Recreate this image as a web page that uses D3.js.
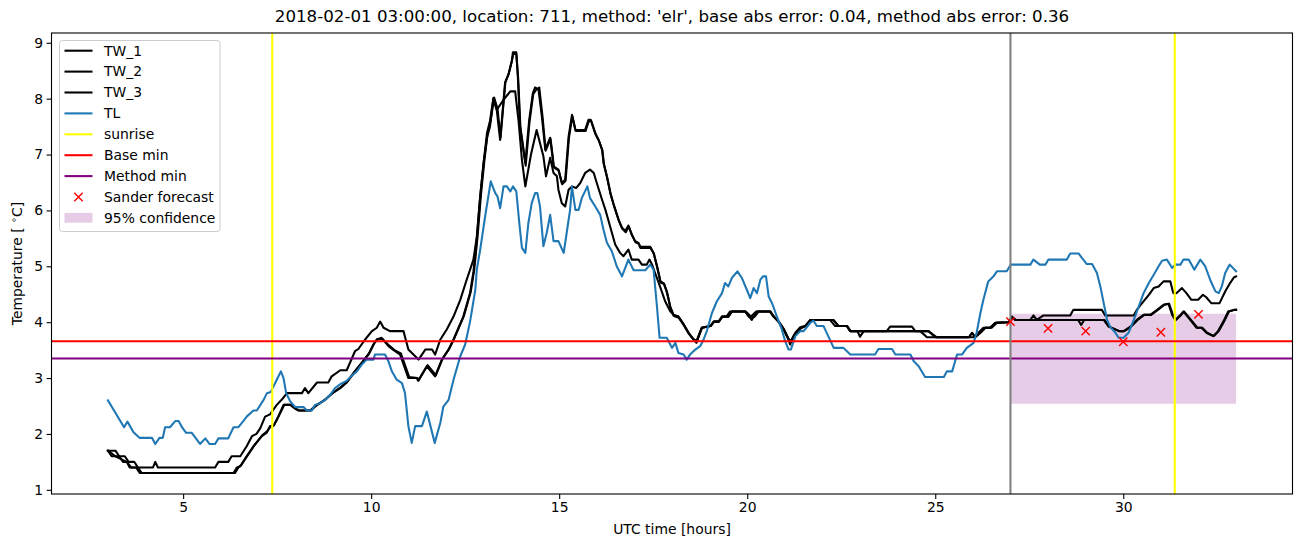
<!DOCTYPE html>
<html><head><meta charset="utf-8">
<script src="https://cdn.jsdelivr.net/npm/d3@7"></script>
<style>body{margin:0;background:#fff}svg{display:block}text{font-family:"DejaVu Sans",sans-serif;fill:#000}</style>
</head><body><svg id="c" width="1302" height="547"></svg>
<script>
// ---------- data ----------
const titleText = "2018-02-01 03:00:00, location: 711, method: 'elr', base abs error: 0.04, method abs error: 0.36";
const xTicks = [5, 10, 15, 20, 25, 30];
const yTicks = [1, 2, 3, 4, 5, 6, 7, 8, 9];

const tlHours = [3.00,3.43,3.52,3.68,3.84,4.17,4.26,4.37,4.46,4.52,4.65,4.79,4.88,4.97,5.08,5.23,5.45,5.59,5.70,5.85,5.94,6.20,6.34,6.47,6.60,6.69,6.87,6.96,7.14,7.23,7.33,7.49,7.60,7.67,7.74,7.85,7.98,8.20,8.29,8.42,8.51,8.64,8.78,8.91,9.04,9.20,9.35,9.50,9.62,9.75,9.88,10.06,10.10,10.37,10.46,10.55,10.68,10.82,10.90,10.99,11.08,11.17,11.35,11.48,11.69,11.84,11.92,12.06,12.19,12.28,12.37,12.50,12.63,12.77,12.81,12.90,13.03,13.18,13.30,13.36,13.43,13.52,13.61,13.70,13.77,13.86,13.94,14.01,14.10,14.18,14.27,14.36,14.42,14.49,14.58,14.67,14.76,14.85,14.98,15.12,15.20,15.29,15.34,15.43,15.52,15.60,15.75,15.82,15.96,16.09,16.18,16.27,16.40,16.53,16.67,16.84,16.98,17.29,17.42,17.51,17.60,17.67,17.86,18.00,18.09,18.17,18.31,18.39,18.48,18.62,18.75,18.84,18.93,19.06,19.19,19.33,19.41,19.50,19.59,19.74,19.86,19.99,20.08,20.17,20.26,20.35,20.42,20.50,20.57,20.66,20.79,20.92,21.01,21.10,21.16,21.28,21.41,21.50,21.68,21.76,21.85,22.03,22.30,22.56,22.74,23.40,23.49,23.85,23.94,24.34,24.43,24.56,24.73,25.23,25.31,25.45,25.58,25.71,25.84,26.02,26.10,26.20,26.28,26.41,26.55,26.64,26.90,27.01,27.53,27.61,27.78,27.93,28.01,28.50,28.59,28.81,28.90,29.03,29.17,29.30,29.39,29.48,29.57,29.65,29.79,29.88,30.01,30.14,30.28,30.41,30.54,30.68,30.81,30.94,31.03,31.16,31.30,31.38,31.52,31.60,31.74,31.89,32.05,32.18,32.31,32.45,32.54,32.62,32.71,32.83,33.00];
const tlTemps = [2.60,2.12,2.22,2.03,1.93,1.93,1.82,1.93,1.93,2.12,2.12,2.23,2.23,2.12,2.02,2.02,1.82,1.92,1.82,1.82,1.92,1.92,2.12,2.12,2.23,2.31,2.42,2.42,2.61,2.73,2.75,2.97,3.12,3.00,2.73,2.58,2.48,2.48,2.42,2.42,2.52,2.55,2.61,2.70,2.82,2.90,2.95,3.05,3.12,3.24,3.33,3.33,3.42,3.42,3.30,3.12,2.97,2.91,2.73,2.14,1.84,2.14,2.14,2.40,1.84,2.20,2.49,2.61,2.97,3.18,3.39,3.60,4.01,4.58,4.94,5.30,5.89,6.52,6.31,6.25,6.04,6.43,6.43,6.34,6.43,6.34,5.77,5.33,5.24,5.77,6.13,6.31,6.31,6.07,5.36,5.60,5.92,5.45,5.45,5.24,5.60,6.01,6.43,6.01,6.01,6.22,6.43,6.22,6.07,5.92,5.65,5.42,5.27,5.00,4.82,5.12,4.93,4.93,5.03,4.94,4.28,3.72,3.72,3.54,3.63,3.45,3.42,3.33,3.42,3.51,3.57,3.69,3.85,4.16,4.37,4.52,4.70,4.64,4.79,4.91,4.79,4.58,4.43,4.61,4.52,4.76,4.82,4.82,4.46,4.34,4.10,3.87,3.66,3.51,3.51,3.75,3.84,3.84,3.99,4.03,3.93,3.93,3.54,3.54,3.42,3.42,3.52,3.52,3.42,3.42,3.30,3.21,3.02,3.02,3.12,3.12,3.42,3.42,3.54,3.63,3.81,4.16,4.40,4.73,4.82,4.91,4.91,5.03,5.03,5.12,5.03,5.03,5.12,5.12,5.23,5.23,5.15,5.04,5.04,4.88,4.64,4.34,4.04,3.92,3.81,3.72,3.72,3.81,4.04,4.28,4.52,4.70,4.85,5.00,5.10,5.12,4.97,5.03,5.03,5.12,5.12,4.94,5.12,5.00,4.76,4.55,4.52,4.64,4.88,5.03,4.91];

const tw1Hours = [3.00,3.10,3.30,3.40,3.50,3.58,3.75,3.85,6.34,6.43,6.52,6.69,6.87,7.09,7.22,7.31,7.40,7.53,7.67,7.85,7.98,8.07,8.38,8.51,8.78,8.95,9.18,9.35,9.57,9.75,9.93,10.06,10.15,10.28,10.46,10.60,10.77,10.99,11.21,11.25,11.48,11.70,11.88,12.06,12.19,12.45,12.63,12.72,12.81,12.90,12.99,13.08,13.16,13.25,13.34,13.43,13.56,13.65,13.74,13.77,13.86,13.90,13.96,14.10,14.20,14.30,14.36,14.45,14.54,14.63,14.76,14.81,14.85,14.98,15.07,15.16,15.25,15.34,15.43,15.69,15.78,15.84,15.96,16.05,16.14,16.18,16.27,16.36,16.45,16.58,16.67,16.76,16.84,16.93,17.02,17.11,17.15,17.42,17.51,17.60,17.69,17.78,17.86,17.95,18.04,18.17,18.31,18.44,18.57,18.65,18.79,19.02,19.11,19.24,19.33,19.45,19.54,19.95,20.12,20.26,20.61,20.70,20.83,20.97,21.10,21.14,21.23,21.41,21.54,21.68,22.20,22.34,22.65,22.74,22.93,23.00,23.10,24.82,25.04,26.01,26.15,26.28,26.50,26.64,26.95,27.04,27.13,28.80,28.88,28.96,29.48,29.61,29.88,30.01,30.19,30.36,30.54,30.72,30.90,31.07,31.20,31.30,31.38,31.52,31.60,31.78,31.95,32.08,32.21,32.39,32.52,32.66,32.79,32.94,33.00];
const tw1Temps = [1.70,1.60,1.60,1.50,1.50,1.40,1.40,1.30,1.30,1.40,1.42,1.60,1.78,1.96,2.02,2.14,2.14,2.31,2.52,2.52,2.45,2.42,2.42,2.50,2.61,2.72,2.82,2.92,3.12,3.27,3.42,3.60,3.69,3.72,3.57,3.50,3.42,3.00,3.00,2.95,3.21,3.03,3.33,3.51,3.69,4.10,4.52,4.90,5.50,6.25,6.85,7.38,7.60,8.01,7.80,7.26,8.28,8.43,8.67,8.83,8.83,8.40,7.50,6.85,7.60,8.10,8.20,8.16,7.68,7.09,7.30,7.03,6.79,6.73,6.49,6.55,7.32,7.71,7.44,7.44,7.62,7.62,7.38,7.26,7.09,6.85,6.60,6.31,6.10,5.83,5.69,5.63,5.73,5.57,5.45,5.42,5.35,5.35,5.24,5.00,4.73,4.70,4.55,4.28,4.13,4.10,3.96,3.81,3.69,3.63,3.90,3.93,4.01,4.01,4.10,4.10,4.19,4.19,4.04,4.19,4.19,4.10,4.01,3.87,3.69,3.60,3.75,3.88,3.93,4.04,4.04,3.93,3.93,3.84,3.84,3.74,3.84,3.84,3.73,3.73,3.81,3.90,3.90,3.99,4.00,4.08,4.04,4.04,3.95,4.04,4.04,3.92,3.84,3.84,3.92,4.04,4.13,4.13,4.22,4.31,4.33,4.13,4.04,4.13,4.19,4.04,3.90,3.90,3.81,3.75,3.84,4.01,4.19,4.22,4.22];

const tw2Hours = [3.00,3.20,3.35,3.50,3.62,3.80,3.90,6.38,6.47,6.55,6.72,6.90,7.11,7.24,7.33,7.42,7.55,7.69,7.87,8.00,8.09,8.40,8.53,8.80,8.97,9.20,9.37,9.59,9.77,9.95,10.08,10.17,10.30,10.48,10.62,10.79,11.01,11.23,11.27,11.50,11.72,11.90,12.08,12.21,12.47,12.65,12.74,12.83,12.92,13.01,13.10,13.18,13.27,13.36,13.44,13.57,13.66,13.75,13.78,13.86,13.91,13.97,14.11,14.21,14.31,14.38,14.47,14.56,14.64,14.77,14.82,14.86,14.99,15.08,15.17,15.26,15.35,15.44,15.70,15.79,15.85,15.97,16.06,16.15,16.19,16.28,16.37,16.46,16.59,16.68,16.77,16.85,16.94,17.03,17.12,17.16,17.43,17.52,17.61,17.70,17.79,17.87,17.96,18.05,18.18,18.32,18.45,18.58,18.66,18.80,19.03,19.12,19.25,19.34,19.50,19.59,19.96,20.10,20.24,20.62,20.71,20.84,20.98,21.11,21.16,21.26,21.42,21.55,21.69,22.29,22.43,22.66,22.75,24.60,24.78,25.90,25.98,26.06,26.20,26.33,26.46,26.60,26.96,27.05,27.14,29.50,29.63,29.90,30.03,30.21,30.38,30.56,30.74,30.92,31.09,31.22,31.32,31.40,31.54,31.62,31.80,31.97,32.10,32.23,32.41,32.54,32.68,32.81,32.95,33.00];
const tw2Temps = [1.70,1.60,1.55,1.50,1.40,1.40,1.30,1.30,1.40,1.45,1.62,1.80,1.98,2.05,2.14,2.16,2.33,2.52,2.52,2.45,2.42,2.42,2.50,2.63,2.73,2.84,2.94,3.14,3.29,3.45,3.62,3.70,3.70,3.58,3.50,3.44,3.02,3.00,2.97,3.23,3.05,3.35,3.53,3.71,4.12,4.55,4.93,5.53,6.28,6.88,7.40,7.62,8.02,7.82,7.30,8.30,8.45,8.70,8.80,8.80,8.36,7.48,6.80,7.58,8.08,8.15,8.20,7.66,7.07,7.28,7.01,6.77,6.71,6.47,6.53,7.30,7.69,7.42,7.42,7.60,7.60,7.36,7.24,7.07,6.83,6.58,6.29,6.08,5.81,5.67,5.61,5.71,5.55,5.43,5.40,5.33,5.33,5.22,4.98,4.71,4.68,4.53,4.26,4.11,4.08,3.94,3.79,3.69,3.66,3.90,3.93,4.01,4.01,4.10,4.10,4.19,4.19,4.10,4.19,4.19,4.10,4.01,3.87,3.69,3.66,3.78,3.90,3.93,4.04,4.04,3.93,3.93,3.84,3.84,3.73,3.73,3.81,3.73,3.81,3.90,3.90,3.99,4.00,4.08,4.04,4.04,3.92,3.84,3.84,3.92,4.04,4.13,4.13,4.22,4.31,4.33,4.13,4.04,4.13,4.19,4.04,3.90,3.90,3.81,3.75,3.84,4.01,4.19,4.22,4.22];

const tw3Hours = [3.00,3.20,3.30,3.45,3.55,3.70,3.80,4.20,4.26,4.33,5.85,5.94,6.20,6.29,6.52,6.69,6.83,6.95,7.05,7.18,7.31,7.49,7.62,7.76,8.16,8.24,8.33,8.56,8.86,8.95,9.18,9.35,9.57,9.66,9.84,10.02,10.15,10.24,10.33,10.50,10.86,10.99,11.26,11.44,11.62,11.70,11.84,12.01,12.19,12.37,12.54,12.72,12.81,12.90,12.99,13.08,13.16,13.25,13.34,13.52,13.70,13.83,13.92,14.01,14.10,14.25,14.40,14.58,14.65,14.76,14.85,14.94,14.98,15.07,15.16,15.25,15.34,15.45,15.56,15.69,15.82,15.92,16.00,16.14,16.23,16.36,16.49,16.62,16.71,16.84,16.93,17.11,17.20,17.33,17.40,17.47,17.55,17.65,17.82,17.95,18.04,18.17,18.31,18.44,18.57,18.65,18.79,19.02,19.11,19.24,19.33,19.50,19.59,19.95,20.04,20.20,20.30,20.61,20.70,20.83,20.97,21.10,21.16,21.28,21.41,21.54,21.68,22.29,22.43,22.65,22.74,23.71,23.80,24.38,24.47,24.82,25.00,25.89,25.98,26.06,26.20,26.33,26.46,26.60,26.95,27.04,27.13,27.53,27.61,27.70,27.88,28.59,28.67,29.43,29.52,30.28,30.36,30.50,30.68,30.81,30.94,31.07,31.25,31.33,31.42,31.56,31.68,31.81,31.99,32.12,32.20,32.34,32.56,32.71,32.84,32.94,33.00];
const tw3Temps = [1.70,1.70,1.60,1.60,1.50,1.50,1.40,1.40,1.50,1.40,1.40,1.50,1.50,1.60,1.60,1.78,1.96,2.00,2.10,2.31,2.35,2.52,2.61,2.73,2.73,2.82,2.73,2.92,2.92,3.03,3.14,3.14,3.48,3.52,3.69,3.84,3.90,4.01,3.90,3.84,3.84,3.51,3.33,3.51,3.51,3.42,3.69,3.87,4.10,4.40,4.76,5.12,5.53,6.25,6.85,7.30,7.50,8.00,7.80,7.98,8.13,8.13,7.60,6.90,6.43,7.00,7.44,6.97,6.61,6.94,6.67,6.61,6.37,6.13,6.07,6.37,6.43,6.40,6.49,6.67,6.73,6.67,6.49,6.19,6.01,5.70,5.39,5.24,5.18,5.30,5.12,5.12,5.03,5.03,5.12,5.03,4.88,4.70,4.37,4.20,4.13,4.10,3.96,3.81,3.69,3.66,3.90,3.93,4.01,4.01,4.10,4.10,4.19,4.19,4.10,4.10,4.19,4.19,4.10,4.01,3.87,3.69,3.65,3.81,3.91,3.93,4.04,4.04,3.93,3.93,3.84,3.84,3.92,3.92,3.84,3.84,3.73,3.73,3.81,3.73,3.81,3.90,3.90,3.99,4.00,4.10,4.04,4.04,4.12,4.04,4.12,4.12,4.22,4.22,4.12,4.12,4.22,4.34,4.49,4.61,4.64,4.73,4.73,4.52,4.52,4.61,4.52,4.40,4.40,4.49,4.45,4.34,4.34,4.55,4.70,4.80,4.82];

const sunriseHours = [7.37, 31.37];
const forecastStart = 27.0;
const baseMin = 3.66;
const methodMin = 3.35;
const forecastHours = [27, 28, 29, 30, 31, 32];
const forecastTemps = [4.01, 3.89, 3.84, 3.65, 3.82, 4.14];
const bandHours = [27, 33];
const bandLow = [2.54, 2.54];
const bandHigh = [4.15, 4.15];

// ---------- drawing ----------
const svg = d3.select("#c");
const L = 51.5, R = 1292.5, T = 33, B = 494;
const LW = 2.08; // 1.5pt at 100 dpi
const x = d3.scaleLinear().domain([1.5, 34.5]).range([L, R]);
const y = d3.scaleLinear().domain([0.925, 9.175]).range([B, T]);

svg.append("defs").append("clipPath").attr("id", "clip")
  .append("rect").attr("x", L).attr("y", T).attr("width", R - L).attr("height", B - T);
const g = svg.append("g").attr("clip-path", "url(#clip)");

// confidence band (lowest layer)
const band = bandHours.map((h, i) => ({h, lo: bandLow[i], hi: bandHigh[i]}));
g.append("path").datum(band)
  .attr("d", d3.area().x(d => x(d.h)).y0(d => y(d.lo)).y1(d => y(d.hi)))
  .attr("fill", "purple").attr("fill-opacity", 0.2);

const line = d3.line().x(d => x(d[0])).y(d => y(d[1]));
function drawSeries(hours, temps, color) {
  g.append("path").datum(hours.map((h, i) => [h, temps[i]]))
    .attr("d", line).attr("fill", "none").attr("stroke", color)
    .attr("stroke-width", LW).attr("stroke-linejoin", "round").attr("stroke-linecap", "square");
}
drawSeries(tw1Hours, tw1Temps, "#000");
drawSeries(tw2Hours, tw2Temps, "#000");
drawSeries(tw3Hours, tw3Temps, "#000");
drawSeries(tlHours, tlTemps, "#1f77b4");

sunriseHours.forEach(h => g.append("line").attr("x1", x(h)).attr("x2", x(h)).attr("y1", T).attr("y2", B)
  .attr("stroke", "yellow").attr("stroke-width", LW));
g.append("line").attr("x1", L).attr("x2", R).attr("y1", y(baseMin)).attr("y2", y(baseMin))
  .attr("stroke", "red").attr("stroke-width", LW);
g.append("line").attr("x1", L).attr("x2", R).attr("y1", y(methodMin)).attr("y2", y(methodMin))
  .attr("stroke", "purple").attr("stroke-width", LW);
g.append("line").attr("x1", x(forecastStart)).attr("x2", x(forecastStart)).attr("y1", T).attr("y2", B)
  .attr("stroke", "gray").attr("stroke-width", LW);

const ms = 4.17;
function xMarker(sel, cx, cy) {
  sel.append("path").attr("d", `M${cx-ms},${cy-ms}L${cx+ms},${cy+ms}M${cx-ms},${cy+ms}L${cx+ms},${cy-ms}`)
    .attr("stroke", "red").attr("stroke-width", 1.4).attr("fill", "none");
}
forecastHours.forEach((h, i) => xMarker(g, x(h), y(forecastTemps[i])));

// axes
const fs = "13.9px";
const xAxis = svg.append("g").attr("transform", `translate(0,${B})`)
  .call(d3.axisBottom(x).tickValues(xTicks).tickFormat(d3.format("d")).tickSize(4.9).tickPadding(3.5));
const yAxis = svg.append("g").attr("transform", `translate(${L},0)`)
  .call(d3.axisLeft(y).tickValues(yTicks).tickFormat(d3.format("d")).tickSize(4.9).tickPadding(3.5));
[xAxis, yAxis].forEach(a => {
  a.select(".domain").remove();
  a.selectAll(".tick line").attr("stroke", "#000").attr("stroke-width", 1.1);
  a.selectAll(".tick text").attr("font-size", fs).attr("font-family", "DejaVu Sans").attr("fill", "#000");
});
svg.append("rect").attr("x", L).attr("y", T).attr("width", R - L).attr("height", B - T)
  .attr("fill", "none").attr("stroke", "#000").attr("stroke-width", 1.1);

svg.append("text").attr("x", (L + R) / 2).attr("y", 22).attr("text-anchor", "middle")
  .attr("font-size", "16.67px").text(titleText);
svg.append("text").attr("x", (L + R) / 2).attr("y", 534).attr("text-anchor", "middle")
  .attr("font-size", fs).text("UTC time [hours]");
const yl = svg.append("text").attr("transform", `translate(22,${(T + B) / 2}) rotate(-90)`)
  .attr("text-anchor", "middle").attr("font-size", fs);
yl.append("tspan").text("Temperature [ ");
yl.append("tspan").attr("font-size", "9.7px").attr("dy", "-5").text("∘");
yl.append("tspan").attr("dy", "5").text("C]");

// legend
const leg = svg.append("g");
leg.append("rect").attr("x", 59.5).attr("y", 40.5).attr("width", 160.5).attr("height", 191)
  .attr("rx", 3).attr("fill", "#fff").attr("fill-opacity", 0.8).attr("stroke", "#cccccc").attr("stroke-width", 1);
const legItems = [
  {label: "TW_1", type: "line", color: "#000"},
  {label: "TW_2", type: "line", color: "#000"},
  {label: "TW_3", type: "line", color: "#000"},
  {label: "TL", type: "line", color: "#1f77b4"},
  {label: "sunrise", type: "line", color: "yellow"},
  {label: "Base min", type: "line", color: "red"},
  {label: "Method min", type: "line", color: "purple"},
  {label: "Sander forecast", type: "marker", color: "red"},
  {label: "95% confidence", type: "patch", color: "purple"}
];
legItems.forEach((it, i) => {
  const cy = 50.7 + i * 20.9;
  if (it.type === "line") {
    leg.append("line").attr("x1", 64.5).attr("x2", 92.5).attr("y1", cy).attr("y2", cy)
      .attr("stroke", it.color).attr("stroke-width", LW);
  } else if (it.type === "marker") {
    xMarker(leg, 78.5, cy);
  } else {
    leg.append("rect").attr("x", 64.5).attr("y", cy - 5).attr("width", 28).attr("height", 9.8)
      .attr("fill", it.color).attr("fill-opacity", 0.2);
  }
  leg.append("text").attr("x", 104).attr("y", cy).attr("dy", "0.35em").attr("font-size", fs).text(it.label);
});
</script>
</body></html>
